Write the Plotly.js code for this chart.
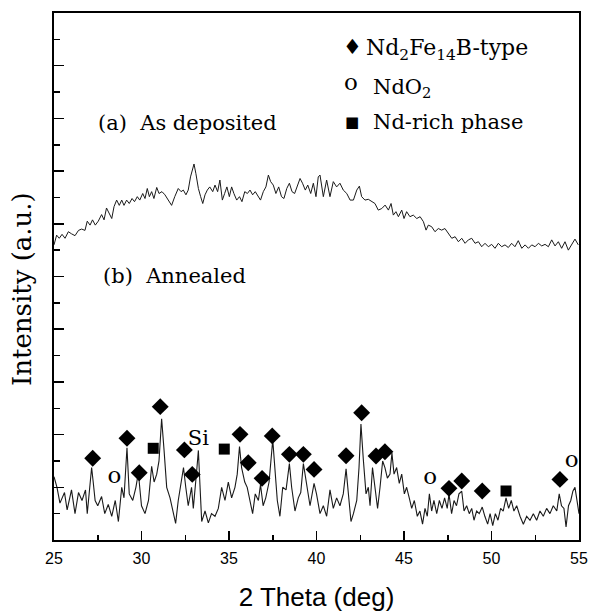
<!DOCTYPE html>
<html>
<head>
<meta charset="utf-8">
<script src="https://cdn.plot.ly/plotly-3.0.1.min.js"></script>
<style>html,body{margin:0;padding:0;background:#fff;}</style>
</head>
<body>
<div id="chart" style="width:589px;height:614px;"></div>
<script>
// (a) As deposited — 2θ (deg) and intensity (arb. units, offset)
const aX = [25.0,25.15,25.3,25.46,25.63,25.82,26.0,26.2,26.4,26.58,26.77,26.9,27.06,27.2,27.36,27.53,27.72,27.86,28.0,28.16,28.3,28.43,28.58,28.73,28.87,29.0,29.15,29.3,29.46,29.6,29.76,29.9,30.07,30.2,30.33,30.45,30.58,30.71,30.87,31.0,31.17,31.34,31.53,31.72,31.9,32.1,32.26,32.39,32.54,32.67,32.8,32.92,33.0,33.11,33.25,33.38,33.5,33.63,33.76,33.9,34.07,34.2,34.35,34.48,34.62,34.75,34.88,35.02,35.15,35.28,35.44,35.6,35.74,35.9,36.05,36.2,36.35,36.5,36.65,36.8,36.96,37.11,37.25,37.38,37.53,37.68,37.84,38.0,38.14,38.3,38.45,38.6,38.75,38.9,39.06,39.2,39.36,39.5,39.67,39.82,39.97,40.1,40.2,40.39,40.58,40.77,40.96,41.15,41.34,41.53,41.73,41.92,42.11,42.3,42.45,42.58,42.77,42.96,43.15,43.34,43.53,43.73,43.92,44.11,44.26,44.39,44.54,44.68,44.87,45.0,45.15,45.34,45.53,45.73,45.92,46.11,46.26,46.39,46.58,46.77,46.96,47.15,47.34,47.53,47.73,47.92,48.11,48.3,48.49,48.68,48.87,49.06,49.25,49.44,49.63,49.82,50.01,50.2,50.39,50.58,50.77,50.96,51.15,51.34,51.53,51.73,51.92,52.11,52.3,52.49,52.68,52.87,53.06,53.25,53.44,53.63,53.82,54.01,54.2,54.39,54.58,54.77,54.96];
const aY = [11.2,11.57,11.45,11.6,11.45,11.7,11.62,11.55,11.75,11.8,11.75,12.1,11.95,12.15,11.95,12.1,12.35,12.15,12.6,12.4,12.2,12.65,12.9,12.7,12.9,12.7,12.9,12.77,12.96,12.84,13.03,12.9,13.15,12.96,13.34,13.03,13.22,12.96,13.38,13.15,13.22,13.1,12.9,12.7,13.03,13.34,13.22,13.28,13.1,13.28,13.78,14.1,14.27,13.9,13.34,13.03,12.77,13.1,13.28,13.4,13.22,13.47,13.22,13.66,12.9,13.15,13.4,13.03,13.4,13.15,12.9,13.03,12.84,13.22,13.15,13.28,13.1,13.22,13.03,12.9,13.22,13.4,13.85,13.6,13.47,13.15,13.4,13.03,12.96,13.34,13.54,13.22,13.15,13.4,13.72,13.54,13.28,13.47,13.15,13.54,13.03,13.78,13.85,13.03,13.66,13.03,13.6,13.4,13.54,13.28,13.15,12.9,12.9,13.28,13.43,13.03,12.9,12.93,12.84,12.77,12.52,12.58,12.71,12.52,12.77,12.33,12.46,12.27,12.52,12.2,12.46,12.27,12.33,12.2,12.27,12.08,11.76,11.95,11.89,11.7,11.82,11.76,11.82,11.64,11.45,11.51,11.32,11.45,11.26,11.39,11.45,11.26,11.32,11.13,11.26,11.13,11.22,11.07,11.26,11.13,11.2,11.1,11.26,11.13,11.36,11.07,11.2,11.07,11.2,11.13,11.26,11.16,11.22,11.13,11.39,11.16,11.32,11.07,11.32,11.0,11.2,11.42,11.2];

// (b) Annealed
const bX = [25.0,25.17,25.34,25.6,25.75,26.0,26.2,26.4,26.6,26.8,26.9,27.0,27.15,27.24,27.35,27.5,27.72,27.9,28.1,28.3,28.5,28.68,28.87,29.0,29.17,29.3,29.5,29.68,29.82,30.0,30.2,30.4,30.58,30.72,30.87,31.0,31.15,31.29,31.44,31.63,31.82,31.95,32.1,32.29,32.4,32.53,32.67,32.86,32.96,33.15,33.25,33.34,33.44,33.63,33.82,34.0,34.2,34.39,34.58,34.77,34.96,35.15,35.34,35.47,35.6,35.72,35.9,36.04,36.2,36.35,36.5,36.68,36.8,36.95,37.1,37.29,37.5,37.63,37.76,37.91,38.07,38.26,38.45,38.58,38.77,38.96,39.1,39.25,39.44,39.63,39.86,40.0,40.2,40.39,40.58,40.77,40.96,41.15,41.34,41.53,41.69,41.82,41.97,42.11,42.3,42.43,42.54,42.67,42.83,42.96,43.06,43.2,43.34,43.49,43.63,43.78,43.91,44.05,44.2,44.31,44.43,44.58,44.73,44.87,45.02,45.15,45.3,45.44,45.59,45.76,45.91,46.06,46.2,46.33,46.45,46.58,46.71,46.87,47.02,47.17,47.32,47.47,47.57,47.72,47.86,48.0,48.14,48.3,48.43,48.58,48.73,48.87,49.0,49.15,49.3,49.47,49.62,49.78,49.92,50.07,50.22,50.37,50.52,50.67,50.83,50.98,51.13,51.28,51.44,51.63,51.82,52.01,52.2,52.39,52.58,52.77,52.96,53.15,53.34,53.53,53.73,53.87,54.0,54.14,54.26,54.4,54.53,54.65,54.77,54.9,55.0];
const bY = [2.4,2.0,1.4,1.8,1.14,1.9,1.0,1.8,1.5,1.9,1.0,1.65,2.75,2.2,1.5,1.3,1.65,1.0,1.35,0.9,1.5,0.7,2.0,1.6,3.5,1.75,1.5,2.0,2.55,1.3,1.0,1.5,2.8,2.2,2.5,3.0,4.6,3.4,2.0,1.6,1.0,0.63,1.5,2.2,2.75,2.0,1.3,2.0,1.2,2.6,3.4,2.1,0.7,1.1,0.65,1.0,0.9,1.2,2.0,1.5,2.2,1.6,2.0,2.5,3.55,2.75,2.2,2.0,1.5,1.0,1.75,1.5,2.1,1.3,1.6,2.2,3.8,2.5,1.5,0.9,2.0,1.9,2.9,2.0,1.1,1.6,1.8,2.9,2.0,1.3,2.15,1.75,1.0,1.3,0.9,1.9,1.2,1.6,1.3,1.75,2.7,1.75,0.7,1.0,1.5,2.75,4.4,3.1,1.75,2.0,1.3,2.75,2.0,1.2,2.0,3.0,2.75,2.35,2.5,3.3,2.5,2.75,2.15,2.5,1.75,2.0,1.6,1.2,1.5,0.9,1.1,0.6,1.2,0.9,1.75,1.1,1.5,1.0,1.5,1.2,1.6,1.2,1.75,1.0,1.5,1.3,1.75,1.85,1.1,1.3,1.0,1.2,0.75,1.1,1.0,1.25,0.9,0.6,1.0,0.55,1.0,0.75,1.2,1.1,1.6,1.2,1.5,1.1,1.3,0.9,0.6,0.9,0.75,1.0,0.75,1.1,0.9,1.2,1.0,1.3,1.1,1.75,1.3,1.2,0.5,1.3,1.5,1.85,2.0,1.5,1.0];

// phase markers
const ndfebX = [27.21,29.17,29.87,31.07,32.45,32.9,35.63,36.1,36.89,37.47,38.45,39.25,39.86,41.69,42.58,43.4,43.91,47.57,48.3,49.47,53.91];
const ndfebY = [3.1,3.86,2.55,5.06,3.42,2.49,4.01,2.93,2.34,3.95,3.25,3.25,2.68,3.2,4.83,3.19,3.35,1.96,2.24,1.86,2.3];
const ndRichX = [30.67,34.73,50.83];
const ndRichY = [3.48,3.45,1.86];
const ndO2X = [28.45,46.49,54.58];
const ndO2Y = [2.4,2.36,2.97];
const siX = [33.25];
const siY = [3.8];

const serif = 'DejaVu Serif, Liberation Serif, serif';
const lineCol = '#1a1a1a';

const traces = [
  {x:aX, y:aY, mode:'lines', line:{color:lineCol, width:1}, hoverinfo:'skip'},
  {x:bX, y:bY, mode:'lines', line:{color:lineCol, width:1.1}, hoverinfo:'skip'},
  {x:ndfebX, y:ndfebY, mode:'markers', marker:{symbol:'diamond', size:13, color:'#000'}},
  {x:ndRichX, y:ndRichY, mode:'markers', marker:{symbol:'square', size:11, color:'#000'}},
  {x:ndO2X, y:ndO2Y, mode:'text', text:ndO2X.map(()=> 'o'), textposition:'middle center', textfont:{family:serif, size:23, color:'#000'}},
  {x:siX, y:siY, mode:'text', text:['Si'], textposition:'middle center', textfont:{family:serif, size:21, color:'#000'}}
];

function ann(text, x, y, size, xanchor){
  return {text:text, xref:'paper', yref:'paper', x:x, y:y, xanchor:xanchor||'left', yanchor:'middle', showarrow:false, font:{family:serif, size:size||21, color:'#000'}};
}
const px = v => (v-54)/525;
const py = v => (540-v)/527;

const yTitle = ann('Intensity (a.u.)', px(22), py(289), 26, 'center');
yTitle.textangle = -90;

const layout = {
  width:589, height:614,
  margin:{l:54, r:10, t:13, b:74, pad:0},
  paper_bgcolor:'#fff', plot_bgcolor:'#fff',
  showlegend:false,
  xaxis:{range:[25,55], tick0:25, dtick:5, ticks:'inside', ticklen:9, tickwidth:1.5, tickcolor:'#000',
    minor:{dtick:2.5, ticks:'inside', ticklen:5, tickwidth:1.5, tickcolor:'#000'},
    showline:true, linewidth:2, linecolor:'#000', mirror:true, showgrid:false, zeroline:false,
    ticklabelstandoff:3,
    tickfont:{family:'Liberation Sans, Arial, sans-serif', size:16, color:'#000'},
    title:{text:'2 Theta (deg)', font:{family:'Liberation Sans, Arial, sans-serif', size:26, color:'#000'}, standoff:22}},
  yaxis:{range:[0,20], tick0:0, dtick:2, ticks:'inside', ticklen:10, tickwidth:1.5, tickcolor:'#000',
    minor:{dtick:1, ticks:'inside', ticklen:6, tickwidth:1.5, tickcolor:'#000'},
    showticklabels:false, showline:true, linewidth:2, linecolor:'#000', mirror:true, showgrid:false, zeroline:false},
  annotations:[
    yTitle,
    ann('(a)  As deposited', px(96), py(123)),
    ann('(b)  Annealed', px(101), py(276)),
    ann('♦', px(352), py(47), 21, 'center'),
    ann('Nd<sub>2</sub>Fe<sub>14</sub>B-type', px(364), py(50), 22),
    ann('o', px(351), py(82), 23, 'center'),
    ann('NdO<sub>2</sub>', px(371), py(88)),
    ann('<span style="font-size:15px">■</span>', px(352), py(122), 15, 'center'),
    ann('Nd-rich phase', px(371), py(122))
  ]
};

Plotly.newPlot('chart', traces, layout, {staticPlot:true, displayModeBar:false});
</script>
</body>
</html>
